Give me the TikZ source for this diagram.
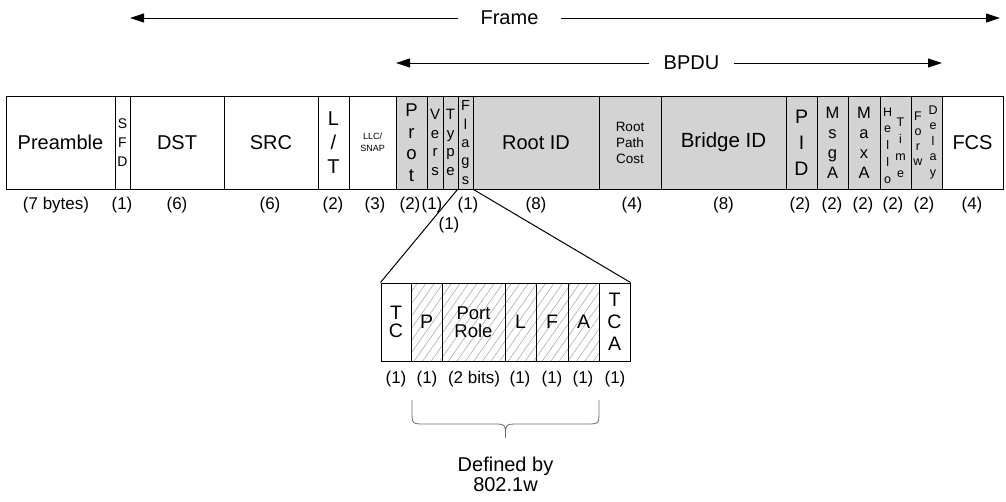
\documentclass[tikz,border=0pt]{standalone}
\usepackage{fontspec}
\setmainfont{Liberation Sans}
\usetikzlibrary{arrows.meta,patterns.meta}
\definecolor{bpdugray}{RGB}{211,211,211}
\definecolor{hatchgray}{RGB}{160,160,160}
\definecolor{bracegray}{RGB}{110,110,110}
\newcommand\fs[2]{\fontsize{#1}{#2}\selectfont}
\begin{document}
\begin{tikzpicture}[x=1pt,y=-1pt,
  field/.style={draw=black, line width=1pt, inner sep=0pt, minimum height=93pt, align=center},
  gfield/.style={field, fill=bpdugray},
  bit/.style={draw=black, line width=1pt, inner sep=0pt, minimum height=78pt, align=center, font=\fs{19.5}{18.5}},
  hbit/.style={bit, pattern={Lines[angle=55,distance=7pt,line width=0.5pt]}, pattern color=hatchgray},
  lbl/.style={inner sep=0pt, font=\fs{17}{20}},
  stack/.style={inner sep=0pt, align=center},
  span/.style={inner sep=0pt, inner xsep=22pt, font=\fs{20}{22}},
  spanarrow/.style={line width=0.9pt, -{Triangle[length=14pt,width=9pt]}},
  connector/.style={line width=1pt, draw=black},
  bracestyle/.style={line width=0.8pt, draw=bracegray},
]
\useasboundingbox (0,0) rectangle (1006,501);

% span arrows
\node[span] (frame) at (509.5,18) {Frame};
\coordinate (frameL) at (130,18);
\coordinate (frameR) at (1000,18);
\draw[spanarrow] (frame.west) -- (frameL);
\draw[spanarrow] (frame.east) -- (frameR);

\node[span, inner xsep=15pt] (bpdu) at (691.5,63) {BPDU};
\coordinate (bpduL) at (396,63);
\coordinate (bpduR) at (942,63);
\draw[spanarrow] (bpdu.west) -- (bpduL);
\draw[spanarrow] (bpdu.east) -- (bpduR);

% frame fields
\node[field, minimum width=109pt, font=\fs{20}{24}] (pre) at (60.5,142.5) {Preamble};
\node[field, minimum width=15pt, font=\fs{14}{19}] (sfd) at (122.5,142.5) {S\\F\\D};
\node[field, minimum width=94pt, font=\fs{20}{24}] (dst) at (177,142.5) {DST};
\node[field, minimum width=94pt, font=\fs{20}{24}] (src) at (271,142.5) {SRC};
\node[field, minimum width=31pt, font=\fs{20}{24}] (lt) at (333.5,142.5) {L\\/\\T};
\node[field, minimum width=47pt, font=\fs{9}{11.5}] (llc) at (372.5,142.5) {LLC/\\SNAP};
\node[gfield, minimum width=31pt, font=\fs{18.5}{21.5}] (prot) at (411.5,142.5) {P\\r\\o\\t};
\node[gfield, minimum width=16pt, font=\fs{15}{18.5}] (vers) at (435,142.5) {V\\e\\r\\s};
\node[gfield, minimum width=15pt, font=\fs{15}{18.5}] (type) at (450.5,142.5) {T\\y\\p\\e};
\node[gfield, minimum width=15pt, font=\fs{14.5}{18.3}] (flags) at (465.5,142.5) {F\\l\\a\\g\\s};
\node[gfield, minimum width=126pt, font=\fs{20}{24}] (rootid) at (536,142.5) {Root ID};
\node[gfield, minimum width=62pt, font=\fs{13.5}{16}] (rpc) at (630,142.5) {Root\\Path\\Cost};
\node[gfield, minimum width=125pt, font=\fs{20.5}{24}] (bid) at (723.5,142.5) {Bridge ID};
\node[gfield, minimum width=31pt, font=\fs{19.5}{26}] (pid) at (801.5,142.5) {P\\I\\D};
\node[gfield, minimum width=31pt, font=\fs{16.5}{20}] (msga) at (832.5,142.5) {M\\s\\g\\A};
\node[gfield, minimum width=32pt, font=\fs{16.5}{20}] (maxa) at (864,142.5) {M\\a\\x\\A};
\node[gfield, minimum width=31pt] (hello) at (895.5,142.5) {};
\node[gfield, minimum width=31pt] (forw) at (926.5,142.5) {};
\node[field, minimum width=61pt, font=\fs{20}{24}] (fcs) at (972.5,142.5) {FCS};

\node[stack, font=\fs{12.5}{16.8}] (hellotxt) at (887.7,145.4) {H\\e\\l\\l\\o};
\node[stack, font=\fs{12.5}{17}] (timetxt) at (900.5,147.5) {T\\i\\m\\e};
\node[stack, font=\fs{12.5}{15}] (forwtxt) at (918,139) {F\\o\\r\\w};
\node[stack, font=\fs{12.5}{15.5}] (delaytxt) at (933,142) {D\\e\\l\\a\\y};

% byte counts
\node[lbl] (c1) at (56,205) {(7 bytes)};
\node[lbl] (c2) at (122,205) {(1)};
\node[lbl] (c3) at (177,205) {(6)};
\node[lbl] (c4) at (270,205) {(6)};
\node[lbl] (c5) at (333,205) {(2)};
\node[lbl] (c6) at (375,205) {(3)};
\node[lbl] (c7) at (410,205) {(2)};
\node[lbl] (c8) at (432,205) {(1)};
\node[lbl] (c9) at (449,225) {(1)};
\node[lbl] (c10) at (468,205) {(1)};
\node[lbl] (c11) at (536,205) {(8)};
\node[lbl] (c12) at (632,205) {(4)};
\node[lbl] (c13) at (723.5,205) {(8)};
\node[lbl] (c14) at (800,205) {(2)};
\node[lbl] (c15) at (832,205) {(2)};
\node[lbl] (c16) at (863,205) {(2)};
\node[lbl] (c17) at (893,205) {(2)};
\node[lbl] (c18) at (924,205) {(2)};
\node[lbl] (c19) at (972,205) {(4)};

% flag bits
\node[bit, minimum width=30pt] (tc) at (396,322) {T\\C};
\node[hbit, minimum width=31pt] (pb) at (426.5,322) {P};
\node[hbit, minimum width=63pt, font=\fs{18.5}{18.5}] (pr) at (473.5,322) {Port\\Role};
\node[hbit, minimum width=31pt] (lb) at (520.5,322) {L};
\node[hbit, minimum width=32pt] (fb) at (552,322) {F};
\node[hbit, minimum width=31pt] (ab) at (583.5,322) {A};
\node[bit, minimum width=31pt, font=\fs{19.5}{22}] (tca) at (614.5,322) {T\\C\\A};

\node[lbl] (b1) at (396,379) {(1)};
\node[lbl] (b2) at (427,379) {(1)};
\node[lbl] (b3) at (474,379) {(2 bits)};
\node[lbl] (b4) at (520,379) {(1)};
\node[lbl] (b5) at (552,379) {(1)};
\node[lbl] (b6) at (583,379) {(1)};
\node[lbl] (b7) at (615,379) {(1)};

% zoom connectors
\draw[connector] (flags.south west) -- (tc.north west);
\draw[connector] (flags.south east) -- (tca.north east);

% brace
\draw[bracestyle] (412,400) -- (412,411) .. controls (412,424) .. (425,424)
  -- (493,424) .. controls (505.5,424) .. (505.5,438)
  .. controls (505.5,424) .. (518,424) -- (586,424)
  .. controls (599,424) .. (599,411) -- (599,400);

\node[align=center, inner sep=0pt, font=\fs{20}{20}] (defby) at (505.5,474.5) {Defined by\\802.1w};
\end{tikzpicture}
\end{document}
